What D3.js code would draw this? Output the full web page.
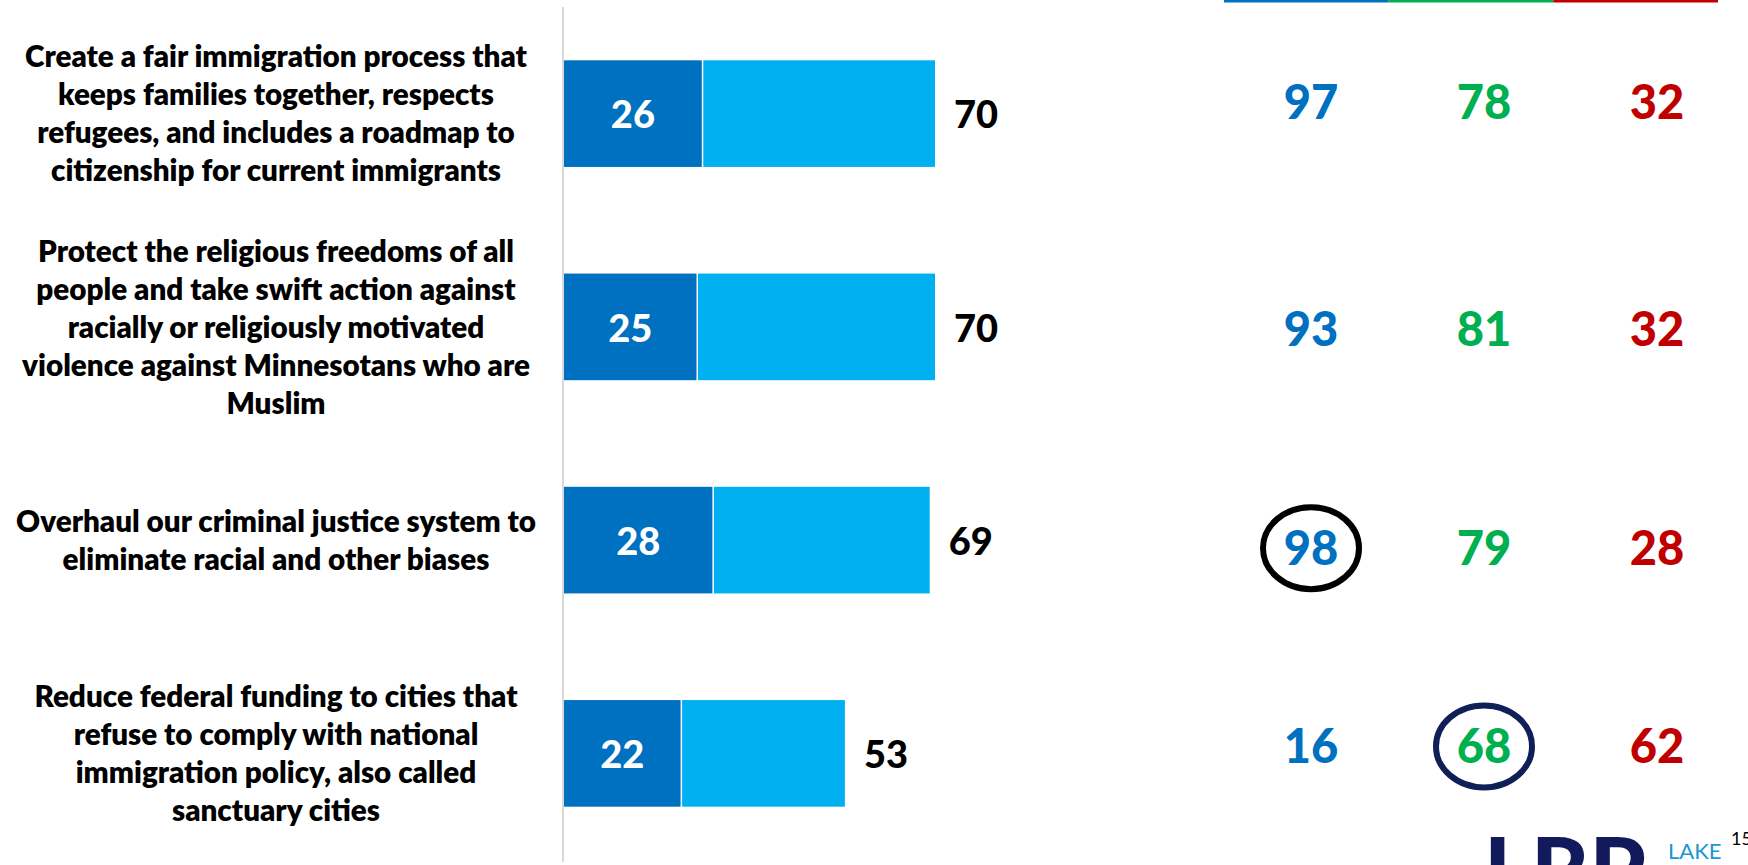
<!DOCTYPE html>
<html>
<head>
<meta charset="utf-8">
<script src="https://cdn.jsdelivr.net/npm/d3@7"></script>
<style>
  body { margin: 0; background: #fff; }
  svg { display: block; }
  text { font-family: Lato, "Open Sans", sans-serif; }
</style>
</head>
<body>
<div id="chart"></div>
<script>
// slide is 1748 x 865
const width = 1748;
const height = 865;

// statement labels, already broken into lines like the slide
const statements = [
    ["Create a fair immigration process that", "keeps families together, respects", "refugees, and includes a roadmap to", "citizenship for current immigrants"],
    ["Protect the religious freedoms of all", "people and take swift action against", "racially or religiously motivated", "violence against Minnesotans who are", "Muslim"],
    ["Overhaul our criminal justice system to", "eliminate racial and other biases"],
    ["Reduce federal funding to cities that", "refuse to comply with national", "immigration policy, also called", "sanctuary cities"]
];
const strongSupport = [26, 25, 28, 22];
const totalSupport = [70, 70, 69, 53];

// party columns on the right
const democrats = [97, 93, 98, 16];
const independents = [78, 81, 79, 68];
const republicans = [32, 32, 28, 62];

// circled cells: [column, row]
const circled = [[0, 2], [1, 3]];

const colDark = '#0070C0';
const colLight = '#00B0F0';
const partyColors = ['#0070C0', '#00B050', '#C00000'];
const circleColors = ['#000000', '#0F2057'];

// the right-hand numbers don't sit exactly on the bar centres in the slide
const rowNudge = [-12, 2, 8, -7];

const ids = statements.map((s, i) => 'row' + i);

const yScale = d3.scaleBand()
    .domain(ids)
    .range([7, 860])
    .paddingInner(0.5)
    .paddingOuter(0.25);

const xScale = d3.scaleLinear()
    .domain([0, 100])
    .range([564, 1094]);

const colScale = d3.scalePoint()
    .domain([0, 1, 2])
    .range([1311, 1657]);

const svg = d3.select('#chart')
    .append('svg')
    .attr('width', width)
    .attr('height', height);

// column header rules at the very top
const ruleScale = d3.scaleBand().domain([0, 1, 2]).range([1224, 1718]);
svg.selectAll('.rule')
    .data([0, 1, 2])
    .enter()
    .append('rect')
    .attr('x', d => ruleScale(d))
    .attr('y', 0)
    .attr('width', ruleScale.bandwidth())
    .attr('height', 2.5)
    .attr('fill', d => partyColors[d]);

// vertical axis line
svg.append('line')
    .attr('x1', xScale(0) - 1)
    .attr('x2', xScale(0) - 1)
    .attr('y1', 7)
    .attr('y2', 862)
    .attr('stroke', '#d9d9d9')
    .attr('stroke-width', 2);

// fit label font to the slide's line width
const labelWeight = 800;
const probe = svg.append('text')
    .style('font-size', '30px')
    .style('font-weight', labelWeight)
    .text(statements[0][0]);
const labelSize = 30 * 502 / probe.node().getComputedTextLength();
probe.remove();
const lineGap = 38;

const rows = svg.selectAll('.row')
    .data(ids)
    .enter()
    .append('g')
    .attr('class', 'row');

// statement text
rows.each(function(id, i) {
    const cy = yScale(id) + yScale.bandwidth() / 2;
    const lines = statements[i];
    const t = d3.select(this).append('text')
        .attr('text-anchor', 'middle')
        .style('font-size', labelSize + 'px')
        .style('font-weight', labelWeight)
        .attr('fill', '#000');
    lines.forEach((line, j) => {
        t.append('tspan')
            .attr('x', 276)
            .attr('y', cy + (j - (lines.length - 1) / 2) * lineGap + labelSize * 0.36)
            .text(line);
    });
});

// stacked bars: strong part, then the rest up to total
rows.append('rect')
    .attr('x', xScale(0))
    .attr('y', d => yScale(d))
    .attr('width', (d, i) => xScale(strongSupport[i]) - xScale(0))
    .attr('height', yScale.bandwidth())
    .attr('fill', colDark);

rows.append('rect')
    .attr('x', (d, i) => xScale(strongSupport[i]) + 1.5)
    .attr('y', d => yScale(d))
    .attr('width', (d, i) => xScale(totalSupport[i]) - xScale(strongSupport[i]) - 1.5)
    .attr('height', yScale.bandwidth())
    .attr('fill', colLight);

const numSize = 38;
rows.append('text')
    .attr('x', (d, i) => (xScale(0) + xScale(strongSupport[i])) / 2)
    .attr('y', d => yScale(d) + yScale.bandwidth() / 2 + numSize * 0.36 + 1)
    .attr('text-anchor', 'middle')
    .attr('fill', '#fff')
    .style('font-size', numSize + 'px')
    .style('font-weight', 900)
    .text((d, i) => strongSupport[i]);

rows.append('text')
    .attr('x', (d, i) => xScale(totalSupport[i]) + 19)
    .attr('y', d => yScale(d) + yScale.bandwidth() / 2 + numSize * 0.36 + 1)
    .attr('fill', '#000')
    .style('font-size', numSize + 'px')
    .style('font-weight', 900)
    .text((d, i) => totalSupport[i]);

// party numbers
const partySize = 47;
const partyData = [democrats, independents, republicans];
const cells = [];
partyData.forEach((vals, c) => vals.forEach((v, r) => cells.push({c, r, v})));
const cellY = d => yScale(ids[d.r]) + yScale.bandwidth() / 2 + rowNudge[d.r];

svg.selectAll('.cell')
    .data(cells)
    .enter()
    .append('text')
    .attr('class', 'cell')
    .attr('x', d => colScale(d.c))
    .attr('y', d => cellY(d) + partySize * 0.36)
    .attr('text-anchor', 'middle')
    .attr('fill', d => partyColors[d.c])
    .style('font-size', partySize + 'px')
    .style('font-weight', 900)
    .text(d => d.v);

svg.selectAll('.ring')
    .data(circled)
    .enter()
    .append('ellipse')
    .attr('cx', d => colScale(d[0]))
    .attr('cy', d => cellY({r: d[1]}))
    .attr('rx', 48)
    .attr('ry', 41)
    .attr('fill', 'none')
    .attr('stroke', (d, i) => circleColors[i])
    .attr('stroke-width', 6);

// logo peeking in at the bottom and the page number
svg.append('text')
    .attr('x', 1484)
    .attr('y', 902)
    .attr('fill', '#131A5C')
    .style('font-size', '90px')
    .style('font-weight', 900)
    .text('LRP');

svg.append('text')
    .attr('x', 1668)
    .attr('y', 859)
    .attr('fill', '#1A95D5')
    .style('font-size', '22px')
    .text('LAKE');

svg.append('text')
    .attr('x', 1731)
    .attr('y', 845)
    .attr('fill', '#000')
    .style('font-size', '18px')
    .text('15');
</script>
</body>
</html>
